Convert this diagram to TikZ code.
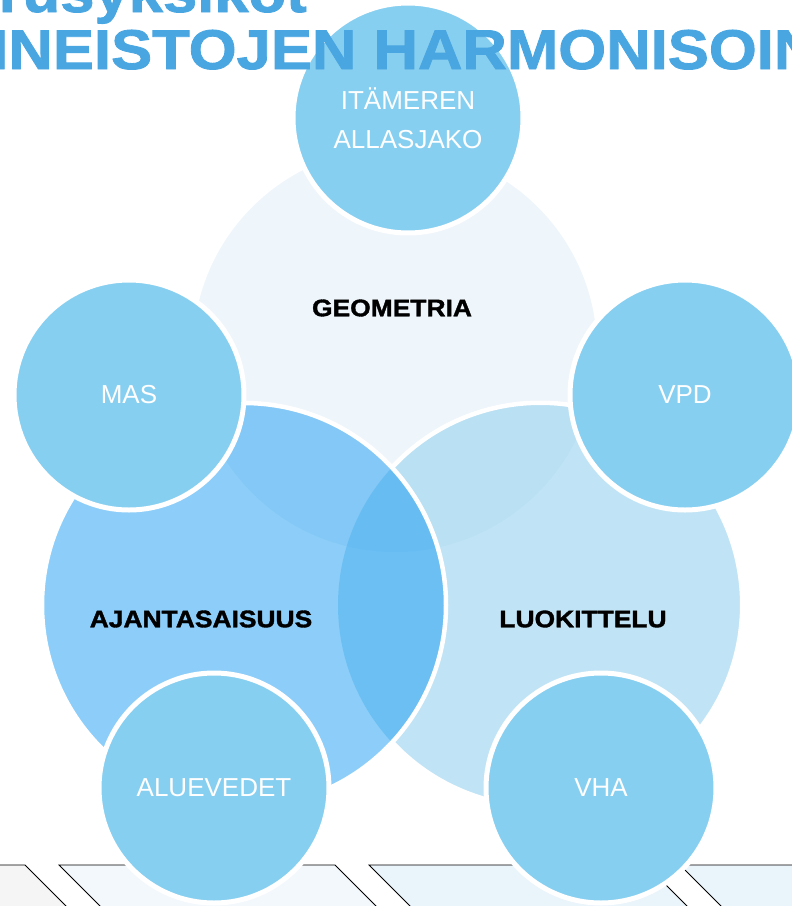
\documentclass[tikz,border=0pt]{standalone}
\usepackage{fontspec}
\setmainfont{Liberation Sans}
\newfontfamily\heavyfont{Liberation Sans}[FakeStretch=1.1,FakeBold=1.5]

\definecolor{geofill}{RGB}{238,245,251}
\definecolor{ajafill}{RGB}{15,151,242}
\definecolor{luofill}{RGB}{150,210,238}
\definecolor{smallfill}{RGB}{135,207,240}
\definecolor{titleblue}{RGB}{74,166,225}
\definecolor{stripgrey}{RGB}{245,245,245}
\definecolor{stripblue}{RGB}{243,248,252}
\definecolor{stripbluedark}{RGB}{234,244,251}

\begin{document}
\begin{tikzpicture}[x=1pt, y=1pt,
    bigcirc/.style={circle, minimum size=404pt, inner sep=0pt, outer sep=0pt},
    smallcirc/.style={circle, minimum size=230pt, inner sep=0pt, fill=smallfill, draw=white, line width=5pt, text=white, font=\fontsize{26}{39}\selectfont, align=center},
    biglabel/.style={font=\heavyfont\bfseries\fontsize{24}{28}\selectfont},
    titletext/.style={text=titleblue, inner sep=0pt, font=\heavyfont\bfseries\fontsize{56}{56}\selectfont},
    strip/.style={draw=black, line width=0.8pt},
    ringline/.style={draw=white, line width=4.5pt}]

        \useasboundingbox (0,0) rectangle (792,-906);
        \clip (0,0) rectangle (792,-906);

        \node[bigcirc, fill=geofill] (geo) at (395,-350) {};
        \node[bigcirc, fill=luofill, fill opacity=0.6] (luo) at (540,-605) {};
        \draw[ringline] (luo.137.1) arc[start angle=137.1, end angle=-137.1, radius=202];
        \node[bigcirc, fill=ajafill, fill opacity=0.48, draw=white, line width=4.5pt] (aja) at (244,-605) {};

        \node[biglabel] (geotext) at (392,-308) {GEOMETRIA};
        \node[biglabel] (ajatext) at (201,-619) {AJANTASAISUUS};
        \node[biglabel] (luotext) at (583,-619) {LUOKITTELU};

        \filldraw[strip, fill=stripgrey] (-251,-865) -- (25,-865) -- (72,-912) -- (-204,-912) -- cycle;
        \filldraw[strip, fill=stripblue] (59,-865) -- (335,-865) -- (382,-912) -- (106,-912) -- cycle;
        \filldraw[strip, fill=stripbluedark] (369,-865) -- (646,-865) -- (693,-912) -- (416,-912) -- cycle;
        \filldraw[strip, fill=stripbluedark] (680,-865) -- (957,-865) -- (1004,-912) -- (727,-912) -- cycle;

        \node[smallcirc] (ita) at (408,-118) {ITÄMEREN\\ALLASJAKO};
        \node[smallcirc] (mas) at (129,-395) {MAS};
        \node[smallcirc] (vpd) at (685,-395) {VPD};
        \node[smallcirc] (alu) at (214,-788) {ALUEVEDET};
        \node[smallcirc] (vha) at (601,-788) {VHA};

        \node[titletext, anchor=base east] (titletop) at (307,-12) {Perusyksiköt};
        \node[titletext, anchor=base] (titlemain) at (410,-69) {AINEISTOJEN HARMONISOINTI};

    \end{tikzpicture}
\end{document}
